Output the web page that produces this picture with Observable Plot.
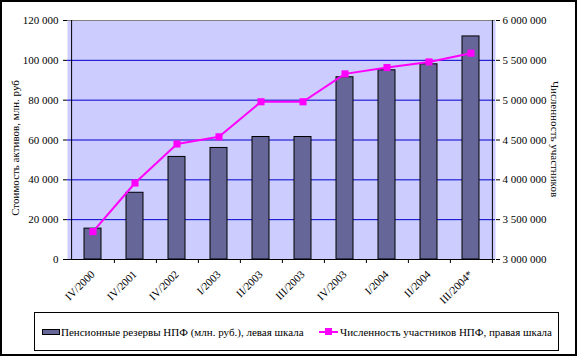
<!DOCTYPE html>
<html><head><meta charset="utf-8">
<script src="https://cdn.jsdelivr.net/npm/d3@7"></script>
<script src="https://cdn.jsdelivr.net/npm/@observablehq/plot@0.6"></script>
<style>
body{margin:0;background:#fff;font-family:"Liberation Serif",serif;}
#wrap{position:relative;width:579px;height:358px;overflow:hidden;background:#fff;}
#frame{position:absolute;left:0;top:0;width:573px;height:352px;border:2px solid #000;pointer-events:none;}
#chart{position:absolute;left:0;top:0;}
#legend{position:absolute;left:34px;top:312px;width:523px;height:37px;border:1px solid #000;background:#fff;font-size:11px;color:#000;}
.item{position:absolute;top:0;height:37px;display:flex;align-items:center;white-space:nowrap;}
.sw1{display:inline-block;width:16px;height:4px;background:#666699;border:1px solid #000;margin-right:1px;}
.sw2{display:inline-block;position:relative;width:19px;height:2px;background:#ff00ff;margin-right:2px;}
.sw2:after{content:"";position:absolute;left:6px;top:-3px;width:7px;height:7px;background:#ff00ff;}
</style></head>
<body>
<div id="wrap">
  <div id="chart"></div>
  <div id="legend">
    <div class="item" style="left:7px"><span class="sw1"></span><span id="l1"></span></div>
    <div class="item" style="left:284px"><span class="sw2"></span><span id="l2"></span></div>
  </div>
  <div id="frame"></div>
</div>
<script>
const categories = ["IV/2000","IV/2001","IV/2002","I/2003","II/2003","III/2003","IV/2003","I/2004","II/2004","III/2004*"];
const reserves = [15500, 33500, 51500, 56000, 61500, 61500, 91500, 95000, 98000, 112000];
const participants = [3350000, 3960000, 4450000, 4540000, 4980000, 4980000, 5330000, 5410000, 5480000, 5590000];
const leftTicks = [0, 20000, 40000, 60000, 80000, 100000, 120000];
const rightTicks = [3000000, 3500000, 4000000, 4500000, 5000000, 5500000, 6000000];
const leftTitle = "Стоимость активов, млн. руб";
const rightTitle = "Численность участников";
const legend1 = "Пенсионные резервы НПФ (млн. руб.), левая шкала";
const legend2 = "Численность участников НПФ, правая шкала";

document.getElementById("l1").textContent = legend1;
document.getElementById("l2").textContent = legend2;

const fmt = d => d3.format(",")(d).replace(/,/g, " ");
const rMin = rightTicks[0], rMax = rightTicks[rightTicks.length - 1];
const lMax = leftTicks[leftTicks.length - 1];
const toLeft = v => (v - rMin) / (rMax - rMin) * lMax;
const toRight = d => rMin + d / lMax * (rMax - rMin);

const bars = categories.map((c, i) => ({c, v: reserves[i]}));
const pts = categories.map((c, i) => ({c, v: toLeft(participants[i])}));

const W = 579, H = 358, mL = 67, mR = 84, mT = 20, mB = 99;
const half = (W - mL - mR) / categories.length / 2;
const tickLen = 4 / (H - mT - mB) * lMax;

const chart = Plot.plot({
  width: W, height: H,
  marginLeft: mL, marginRight: mR, marginTop: mT, marginBottom: mB,
  style: {fontFamily: "Liberation Serif", fontSize: "11px", color: "#000", background: "transparent"},
  x: {type: "band", domain: categories, paddingInner: 0.6, paddingOuter: 0.3, label: null},
  y: {domain: [0, lMax], label: null},
  marks: [
    Plot.frame({fill: "#ccccff", stroke: null}),
    Plot.ruleY(leftTicks.slice(1, -1), {stroke: "#0000cc", strokeWidth: 1}),
    Plot.ruleY([lMax], {stroke: "#808080"}),
    Plot.barY(bars, {x: "c", y: "v", fill: "#666699", stroke: "#000", strokeWidth: 1}),
    Plot.line(pts, {x: "c", y: "v", stroke: "#ff00ff", strokeWidth: 2}),
    Plot.dot(pts, {x: "c", y: "v", symbol: "square", fill: "#ff00ff", stroke: null, r: 4}),
    Plot.ruleY([0], {stroke: "#000"}),
    Plot.ruleX([categories[0]], {x: d => d, dx: -half, y1: 0, y2: lMax, stroke: "#000"}),
    Plot.ruleX([categories[categories.length - 1]], {x: d => d, dx: half, y1: 0, y2: lMax, stroke: "#000"}),
    Plot.ruleX(categories, {x: d => d, dx: half, y1: 0, y2: -tickLen, stroke: "#000"}),
    Plot.axisY({anchor: "left", ticks: leftTicks, tickSize: 4, tickPadding: 5, tickFormat: fmt, label: null}),
    Plot.axisY({anchor: "right", ticks: leftTicks, tickSize: 4, tickPadding: 3, tickFormat: d => fmt(toRight(d)), label: null}),
    Plot.axisX({tickSize: 0, tickRotate: -45, tickPadding: 13, label: null, fontSize: 11}),
    Plot.text([leftTitle], {frameAnchor: "left", textAnchor: "middle", dx: -52, dy: 8, rotate: -90, fontSize: 11}),
    Plot.text([rightTitle], {frameAnchor: "right", textAnchor: "middle", dx: 59, dy: -1, rotate: 90, fontSize: 11})
  ]
});
document.getElementById("chart").appendChild(chart);
</script>
</body></html>
